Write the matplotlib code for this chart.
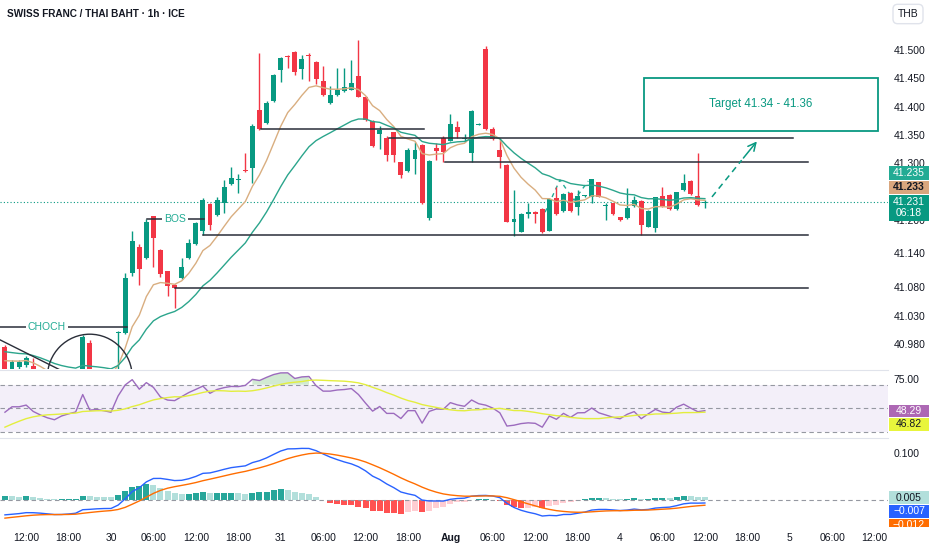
import numpy as np
import pandas as pd
import matplotlib
matplotlib.use('Agg')
import matplotlib.pyplot as plt
from matplotlib.patches import Rectangle, Ellipse
from matplotlib.transforms import IdentityTransform

plt.rcParams['font.family'] = ['Liberation Sans', 'DejaVu Sans']

# CHF/THB 1h candles, index 0 = Jul 29 09:00 (weekend skipped)
opens = [40.974, 40.935, 40.939, 40.942, 40.941, 40.930, 40.915, 40.902, 40.893, 40.905,
         40.912, 40.918, 40.981, 40.925, 40.928, 40.922, 40.999, 40.999, 41.105, 41.151,
         41.132, 41.206, 41.146, 41.108, 41.084, 41.096, 41.132, 41.157, 41.180, 41.227,
         41.208, 41.229, 41.263, 41.270, 41.288, 41.291, 41.394, 41.370, 41.410, 41.465,
         41.489, 41.496, 41.466, 41.492, 41.478, 41.445, 41.407, 41.420, 41.427, 41.430,
         41.454, 41.417, 41.374, 41.351, 41.345, 41.354, 41.301, 41.285, 41.307, 41.332,
         41.202, 41.326, 41.345, 41.339, 41.364, 41.342, 41.317, 41.368, 41.502, 41.361,
         41.323, 41.296, 41.196, 41.178, 41.209, 41.214, 41.219, 41.180, 41.238, 41.215,
         41.247, 41.222, 41.242, 41.239, 41.266, 41.224, 41.229, 41.204, 41.202, 41.224,
         41.233, 41.187, 41.185, 41.242, 41.243, 41.219, 41.252, 41.269, 41.242, 41.230]
highs = [40.978, 40.951, 40.951, 40.958, 40.955, 40.935, 40.918, 40.906, 40.910, 40.918,
         40.925, 40.996, 40.987, 40.933, 40.932, 40.928, 41.003, 41.105, 41.180, 41.157,
         41.201, 41.206, 41.148, 41.109, 41.086, 41.132, 41.165, 41.196, 41.238, 41.229,
         41.240, 41.270, 41.293, 41.281, 41.318, 41.369, 41.494, 41.410, 41.458, 41.488,
         41.491, 41.498, 41.491, 41.494, 41.481, 41.472, 41.436, 41.468, 41.468, 41.482,
         41.518, 41.419, 41.376, 41.365, 41.348, 41.355, 41.302, 41.326, 41.338, 41.334,
         41.305, 41.335, 41.348, 41.387, 41.375, 41.352, 41.394, 41.370, 41.507, 41.364,
         41.341, 41.298, 41.252, 41.212, 41.229, 41.215, 41.220, 41.238, 41.258, 41.247,
         41.249, 41.253, 41.243, 41.272, 41.266, 41.229, 41.229, 41.204, 41.256, 41.242,
         41.235, 41.217, 41.240, 41.258, 41.245, 41.249, 41.281, 41.270, 41.318, 41.234]
lows = [40.916, 40.932, 40.934, 40.939, 40.927, 40.910, 40.896, 40.888, 40.890, 40.900,
        40.906, 40.915, 40.916, 40.915, 40.912, 40.905, 40.905, 40.997, 41.100, 41.084,
        41.130, 41.116, 41.099, 41.065, 41.043, 41.095, 41.130, 41.155, 41.173, 41.181,
        41.206, 41.212, 41.261, 41.247, 41.284, 41.264, 41.358, 41.369, 41.408, 41.444,
        41.469, 41.456, 41.448, 41.446, 41.440, 41.419, 41.405, 41.419, 41.426, 41.429,
        41.417, 41.374, 41.328, 41.324, 41.304, 41.302, 41.273, 41.284, 41.281, 41.227,
        41.199, 41.305, 41.302, 41.339, 41.344, 41.338, 41.301, 41.367, 41.358, 41.341,
        41.291, 41.196, 41.170, 41.178, 41.202, 41.193, 41.176, 41.180, 41.208, 41.213,
        41.213, 41.208, 41.240, 41.229, 41.240, 41.199, 41.208, 41.197, 41.201, 41.222,
        41.173, 41.187, 41.178, 41.222, 41.217, 41.217, 41.250, 41.243, 41.224, 41.220]
closes = [40.925, 40.948, 40.948, 40.955, 40.930, 40.915, 40.902, 40.893, 40.905, 40.912,
          40.918, 40.992, 40.925, 40.928, 40.922, 40.915, 41.001, 41.096, 41.162, 41.112,
          41.196, 41.168, 41.104, 41.082, 41.078, 41.116, 41.158, 41.194, 41.235, 41.190,
          41.235, 41.258, 41.273, 41.272, 41.286, 41.366, 41.360, 41.407, 41.455, 41.486,
          41.487, 41.461, 41.484, 41.490, 41.448, 41.420, 41.420, 41.430, 41.434, 41.442,
          41.417, 41.376, 41.330, 41.358, 41.314, 41.314, 41.279, 41.323, 41.323, 41.229,
          41.304, 41.322, 41.320, 41.369, 41.354, 41.345, 41.392, 41.369, 41.360, 41.342,
          41.311, 41.196, 41.201, 41.210, 41.214, 41.210, 41.177, 41.236, 41.210, 41.245,
          41.215, 41.242, 41.243, 41.271, 41.240, 41.225, 41.209, 41.199, 41.221, 41.235,
          41.190, 41.215, 41.239, 41.223, 41.219, 41.248, 41.265, 41.245, 41.226, 41.231]

tick_pos = [3, 9, 15, 21, 27, 33, 39, 45, 51, 57, 63, 69, 75, 81, 87, 93, 99, 105, 111, 117, 123]
tick_text = ['12:00', '18:00', '30', '06:00', '12:00', '18:00', '31', '06:00', '12:00', '18:00',
             'Aug', '06:00', '12:00', '18:00', '4', '06:00', '12:00', '18:00', '5', '06:00', '12:00']
price_ticks = [40.98, 41.03, 41.08, 41.14, 41.20, 41.30, 41.35, 41.40, 41.45, 41.50]

# indicator state at the first visible bar (estimated from the panels)
ema_fast_seed, ema_slow_seed = 40.950, 40.966
macd12_seed, macd26_seed, signal_seed = 40.962, 40.995, -0.040
rsi_gain_seed, rsi_loss_seed = 0.0088, 0.0100
rsi_before = [15, 18, 22, 26, 30, 33, 36, 38, 40, 42, 43, 44, 45]

# drawings on the chart
choch_level, choch_span = 41.010, (-0.7, 17.3)
bos_level, bos_span = 41.201, (20.1, 28.1)
levels = [41.360, 41.344, 41.301, 41.173, 41.078]
level_start = [36.2, 54.3, 62.2, 28.0, 24.0]
level_end = [59.3, 111.5, 113.6, 113.6, 113.6]
trend_x, trend_y = [-0.7, 10.0], [40.987, 40.920]
circle_xy, circle_w, circle_h = (12.0, 40.921), 12.0, 0.152
zigzag_x, zigzag_y = [76.4, 78.5, 80.5, 82.5], [41.213, 41.270, 41.234, 41.268]
target_x, target_y = (90.4, 123.5), (41.357, 41.451)
proj_x, proj_y = [100.0, 104.2, 106.6], [41.240, 41.305, 41.342]

last_labels = ['41.235', '41.233', '41.231\n06:18']
last_values = [41.235, 41.233, 41.231]
rsi_labels, rsi_values = ['48.29', '46.82'], [48.29, 46.82]
macd_labels, macd_values = ['0.005', '\u22120.007', '\u22120.012'], [0.005, -0.007, -0.012]

UP, DOWN = '#089981', '#F23645'
TXT = '#131722'


def ema(values, span, seed):
    a = 2.0 / (span + 1)
    out = np.empty(len(values))
    out[0] = seed
    for i in range(1, len(values)):
        out[i] = out[i - 1] + a * (values[i] - out[i - 1])
    return out


o = np.array(opens); h = np.array(highs); l = np.array(lows); c = np.array(closes)
x = np.arange(len(c))

ema_fast = ema(c, 9, ema_fast_seed)
ema_slow = ema(c, 21, ema_slow_seed)

# RSI 14 (Wilder) and its SMA 14
chg = np.diff(c, prepend=c[0])
ag, al = rsi_gain_seed, rsi_loss_seed
rsi = []
for i, d in enumerate(chg):
    if i > 0:
        ag = (ag * 13 + max(d, 0)) / 14
        al = (al * 13 + max(-d, 0)) / 14
    rsi.append(100 - 100 / (1 + ag / al))
rsi = np.array(rsi)
rsi_ma = pd.Series(rsi_before + list(rsi)).rolling(14).mean().values[len(rsi_before):]

# MACD 12/26/9
macd = ema(c, 12, macd12_seed) - ema(c, 26, macd26_seed)
signal = ema(macd, 9, signal_seed)
hist = macd - signal
prev = np.r_[hist[0], hist[:-1]]
hcol = np.where(hist >= 0, np.where(hist >= prev, '#26A69A', '#B2DFDB'),
                np.where(hist < prev, '#FF5252', '#FFCDD2'))

fig = plt.figure(figsize=(9.32, 5.5), dpi=100)
W = 888 / 932
ax = fig.add_axes([0, 181 / 550, W, 369 / 550])
ax_r = fig.add_axes([0, 113 / 550, W, 67 / 550], sharex=ax)
ax_m = fig.add_axes([0, 23 / 550, W, 89 / 550], sharex=ax)

# ---- price panel
col = np.where(c >= o, UP, DOWN)
ax.vlines(x, l, h, colors=col, lw=1, zorder=3)
ax.bar(x, np.maximum(np.abs(c - o), 0.0015), bottom=np.minimum(o, c), width=0.7,
       color=col, zorder=4)
ax.plot(x, ema_fast, color='#D9AE80', lw=1, zorder=5)
ax.plot(x, ema_slow, color='#2BA58C', lw=1, zorder=5)

ax.axhline(last_values[2], color=UP, lw=0.8, ls=(0, (1, 2)), zorder=2)
for lv, s, e in zip(levels, level_start, level_end):
    ax.plot([s, e], [lv, lv], color='#2A2E39', lw=1.1, zorder=6)
ax.plot(choch_span, [choch_level] * 2, color='#2A2E39', lw=1.1, zorder=6)
ax.plot(bos_span, [bos_level] * 2, color='#2A2E39', lw=1.1, zorder=6)
ax.text(5.9, choch_level, 'CHOCH', color='#22AB94', fontsize=7.5, ha='center', va='center',
        zorder=7, bbox=dict(fc='white', ec='none', pad=1.5))
ax.text(24.1, bos_level, 'BOS', color='#22AB94', fontsize=7.5, ha='center', va='center',
        zorder=7, bbox=dict(fc='white', ec='none', pad=1.5))
ax.plot(trend_x, trend_y, color='#2A2E39', lw=1, zorder=6)
ax.add_patch(Ellipse(circle_xy, circle_w, circle_h, fill=False, ec='#2A2E39', lw=1, zorder=6))
ax.plot(zigzag_x, zigzag_y, color='#22AB94', lw=1, ls=(0, (3, 3)), zorder=2)

ax.add_patch(Rectangle((target_x[0], target_y[0]), target_x[1] - target_x[0],
                       target_y[1] - target_y[0], fill=False, ec=UP, lw=1.3, zorder=6))
ax.text(sum(target_x) / 2, sum(target_y) / 2, 'Target 41.34 - 41.36', color=UP,
        fontsize=8.3, ha='center', va='center')
ax.plot(proj_x[:2], proj_y[:2], color=UP, lw=1.1, ls=(0, (4, 3)), zorder=6)
ax.annotate('', xy=(proj_x[2], proj_y[2]), xytext=(proj_x[1], proj_y[1]),
            arrowprops=dict(arrowstyle='->', color=UP, lw=1.1, mutation_scale=14), zorder=6)

ax.set_ylim(40.9354, 41.5885)
ax.set_xlim(-0.7, 124.9)
ax.yaxis.tick_right()
ax.set_yticks(price_ticks)
ax.set_yticklabels(['%.3f' % t for t in price_ticks])

# ---- RSI panel
ax_r.axhspan(30, 70, color='#7E57C2', alpha=0.09, lw=0)
for lv in (70, 50, 30):
    ax_r.axhline(lv, color='#9598A1', lw=0.8, ls=(0, (4, 3)))
ax_r.fill_between(x, 70, rsi, where=rsi > 70, color='#A5D6A7', alpha=0.5, lw=0)
ax_r.plot(x, rsi, color='#9C6BBE', lw=1)
ax_r.plot(x, rsi_ma, color='#E3EE3E', lw=1)
ax_r.set_ylim(25.9, 82.4)
ax_r.yaxis.tick_right()
ax_r.set_yticks([75])
ax_r.set_yticklabels(['75.00'])

# ---- MACD panel
ax_m.bar(x, hist, width=0.85, color=hcol)
ax_m.axhline(0, color='#9598A1', lw=0.8, ls=(0, (4, 3)))
ax_m.plot(x, macd, color='#2962FF', lw=1)
ax_m.plot(x, signal, color='#FF6D00', lw=1)
ax_m.set_ylim(-0.0591, 0.1323)
ax_m.yaxis.tick_right()
ax_m.set_yticks([0.1])
ax_m.set_yticklabels(['0.100'])

ax_m.set_xticks(tick_pos)
ax_m.set_xticklabels(tick_text)
for lab in ax_m.get_xticklabels():
    if lab.get_text() == 'Aug':
        lab.set_fontweight('bold')

for a in (ax, ax_r, ax_m):
    for s in a.spines.values():
        s.set_visible(False)
    a.tick_params(axis='y', length=0, pad=4, labelsize=7.5, labelcolor=TXT)
    a.tick_params(axis='x', length=0, pad=4, labelsize=7.5, labelcolor=TXT)
for a in (ax_r, ax_m):
    a.spines['top'].set_visible(True)
    a.spines['top'].set_color('#E0E3EB')
ax.tick_params(axis='x', labelbottom=False)
ax_r.tick_params(axis='x', labelbottom=False)


# value tags on the price scale, drawn in pixels (figure is saved at its own dpi)
def tag(axis, value, text, shift, height, bg, fg, bold=False):
    yc = axis.transData.transform((0, value))[1] - shift
    fig.add_artist(Rectangle((889, yc - height / 2), 40, height, transform=IdentityTransform(),
                             fc=bg, ec='none', zorder=20))
    fig.text(909, yc, text, transform=IdentityTransform(), ha='center', va='center',
             fontsize=7.5, color=fg, fontweight='bold' if bold else 'normal',
             linespacing=1.15, zorder=21)


for txt, val, sh, hh, bg, fg in zip(last_labels, last_values, [-27, -13.6, 5.8], [14, 13.5, 26],
                                    ['#22AB94', '#D9A67E', UP], ['white', TXT, 'white']):
    tag(ax, val, txt, sh, hh, bg, fg, bold=(fg == TXT))
for txt, val, sh, bg, fg in zip(rsi_labels, rsi_values, [0.5, 12.3], ['#AD68B4', '#E8F53C'],
                                ['white', TXT]):
    tag(ax_r, val, txt, sh, 12.5, bg, fg)
for txt, val, sh, bg, fg in zip(macd_labels, macd_values, [0.7, 8.7, 20.4],
                                ['#B2DFDB', '#2962FF', '#FF6D00'], [TXT, 'white', 'white']):
    tag(ax_m, val, txt, sh, 13, bg, fg)

fig.add_artist(Rectangle((W, 0), 1 - W, 23 / 550, transform=fig.transFigure,
                         fc='white', ec='none', zorder=30))
fig.text(7 / 932, 1 - 14 / 550, 'SWISS FRANC / THAI BAHT \u00b7 1h \u00b7 ICE', fontsize=7.2,
         fontweight='bold', color=TXT, va='center')
fig.text(908 / 932, 1 - 14 / 550, 'THB', fontsize=7.5, color=TXT, ha='center', va='center',
         bbox=dict(boxstyle='round,pad=0.45', fc='white', ec='#E0E3EB'))

fig.savefig('out.png', dpi=100)
